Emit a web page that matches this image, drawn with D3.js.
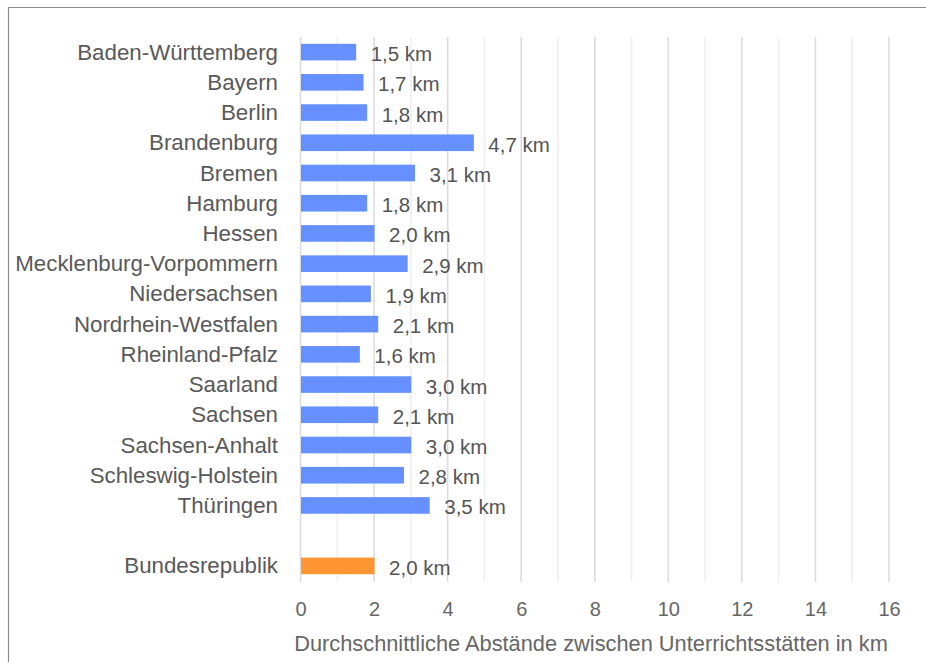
<!DOCTYPE html>
<html lang="de">
<head>
  <meta charset="UTF-8">
  <title>Durchschnittliche Abstände zwischen Unterrichtsstätten</title>
  <script src="https://d3js.org/d3.v7.min.js"></script>
  <style>
    body { margin: 0; background: #fff; }
    text { font-family: "Liberation Sans", Arial, sans-serif; }
  </style>
</head>
<body>
<div id="chart"></div>
<script>

// Bundesländer + Bundesrepublik (leere Zeile dazwischen)
const laender = ["Baden-Württemberg", "Bayern", "Berlin", "Brandenburg", "Bremen", "Hamburg",
  "Hessen", "Mecklenburg-Vorpommern", "Niedersachsen", "Nordrhein-Westfalen", "Rheinland-Pfalz",
  "Saarland", "Sachsen", "Sachsen-Anhalt", "Schleswig-Holstein", "Thüringen"];
const abstaende = [1.5, 1.7, 1.8, 4.7, 3.1, 1.8, 2.0, 2.9, 1.9, 2.1, 1.6, 3.0, 2.1, 3.0, 2.8, 3.5];
const bund = "Bundesrepublik";
const bundWert = 2.0;
const xTicks = [0, 2, 4, 6, 8, 10, 12, 14, 16];
const xTitel = "Durchschnittliche Abstände zwischen Unterrichtsstätten in km";

const width = 926, height = 662;
const rows = laender.map((d, i) => ({name: d, value: abstaende[i], bund: false}));
const categories = laender.concat([" ", bund]);
rows.push({name: bund, value: bundWert, bund: true});

const svg = d3.select("#chart").append("svg")
  .attr("width", width)
  .attr("height", height);

// Rahmen (rechts und unten abgeschnitten)
svg.append("path")
  .attr("d", "M8.5,662 V7.5 H926")
  .attr("fill", "none")
  .attr("stroke", "#8c8c8c")
  .attr("stroke-width", 1.2);

const x = d3.scaleLinear().domain([0, 16]).range([300.5, 889]);
const y = d3.scaleBand().domain(categories).range([37, 581]).paddingInner(0.45).paddingOuter(0.225);

// Gitterlinien, ungerade heller
svg.append("g")
  .selectAll("line")
  .data(d3.range(0, 17))
  .join("line")
  .attr("x1", d => x(d)).attr("x2", d => x(d))
  .attr("y1", 37).attr("y2", 582)
  .attr("stroke", d => d % 2 === 0 ? "#dcdcdc" : "#f0f0f0")
  .attr("stroke-width", 1.6);

svg.append("g")
  .selectAll("rect")
  .data(rows)
  .join("rect")
  .attr("x", x(0) + 0.5)
  .attr("y", d => y(d.name))
  .attr("width", d => x(d.value) - x(0))
  .attr("height", y.bandwidth())
  .attr("fill", d => d.bund ? "#ff9533" : "#6690ff");

const fmt = v => d3.format(".1f")(v).replace(".", ",") + " km";

svg.append("g")
  .selectAll("text")
  .data(rows)
  .join("text")
  .attr("x", d => x(d.value) + 15)
  .attr("y", d => y(d.name) + y.bandwidth() / 2 + 1.5)
  .attr("dominant-baseline", "central")
  .attr("font-size", 20.5)
  .attr("fill", "#555")
  .text(d => fmt(d.value));

// Kategorien
svg.append("g")
  .selectAll("text")
  .data(rows)
  .join("text")
  .attr("x", 278)
  .attr("y", d => y(d.name) + y.bandwidth() / 2)
  .attr("dominant-baseline", "central")
  .attr("text-anchor", "end")
  .attr("font-size", 22.3)
  .attr("fill", "#595959")
  .text(d => d.name);

// x-Achse
const xAxis = svg.append("g")
  .attr("transform", "translate(0,609)")
  .call(d3.axisBottom(x).tickValues(xTicks).tickSize(0).tickPadding(0));
xAxis.select(".domain").remove();
xAxis.selectAll("text")
  .attr("dy", null)
  .attr("dominant-baseline", "central")
  .attr("font-size", 20)
  .attr("font-family", "Liberation Sans, Arial, sans-serif")
  .attr("fill", "#666");

svg.append("text")
  .attr("x", 591)
  .attr("y", 643)
  .attr("text-anchor", "middle")
  .attr("dominant-baseline", "central")
  .attr("font-size", 21.8)
  .attr("fill", "#666")
  .text(xTitel);

</script>
</body>
</html>
